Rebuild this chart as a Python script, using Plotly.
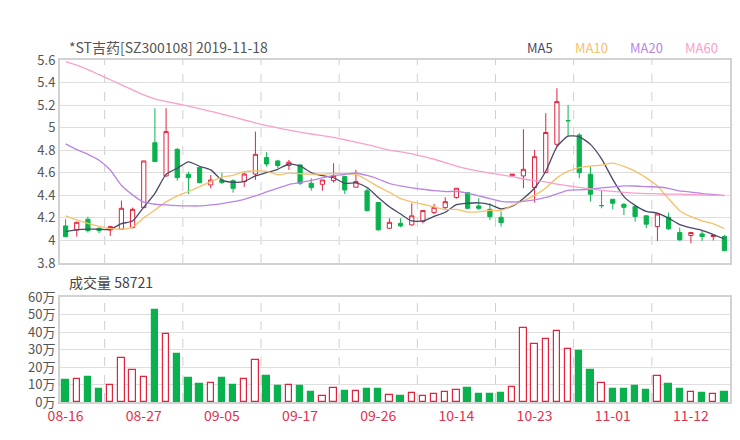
import plotly.graph_objects as go

# ---------------- data ----------------
dates = ["08-16", "08-19", "08-20", "08-21", "08-22", "08-23", "08-26", "08-27", "08-28", "08-29",
         "08-30", "09-02", "09-03", "09-04", "09-05", "09-06", "09-09", "09-10", "09-11", "09-12",
         "09-16", "09-17", "09-18", "09-19", "09-20", "09-23", "09-24", "09-25", "09-26", "09-27",
         "09-30", "10-08", "10-09", "10-10", "10-11", "10-14", "10-15", "10-16", "10-17", "10-18",
         "10-21", "10-22", "10-23", "10-24", "10-25", "10-28", "10-29", "10-30", "10-31", "11-01",
         "11-04", "11-05", "11-06", "11-07", "11-08", "11-11", "11-12", "11-13", "11-14", "11-15"]

opens = [4.129, 4.093, 4.188, 4.108, 4.093, 4.099, 4.114, 4.291, 4.867, 4.572,
         4.808, 4.587, 4.646, 4.492, 4.536, 4.530, 4.522, 4.589, 4.735, 4.705,
         4.664, 4.670, 4.507, 4.498, 4.531, 4.566, 4.472, 4.440, 4.336, 4.108,
         4.152, 4.138, 4.167, 4.247, 4.291, 4.380, 4.424, 4.306, 4.276, 4.205,
         4.574, 4.572, 4.469, 4.602, 4.853, 5.062, 4.935, 4.587, 4.309, 4.365,
         4.321, 4.300, 4.218, 4.123, 4.206, 4.070, 4.044, 4.058, 4.035, 4.035]
highs = [4.188, 4.167, 4.210, 4.114, 4.129, 4.353, 4.291, 4.705, 5.172, 5.172,
         4.817, 4.610, 4.655, 4.580, 4.600, 4.542, 4.600, 4.965, 4.782, 4.714,
         4.714, 4.670, 4.551, 4.536, 4.684, 4.566, 4.625, 4.463, 4.336, 4.197,
         4.197, 4.330, 4.270, 4.324, 4.383, 4.463, 4.430, 4.374, 4.330, 4.256,
         4.588, 4.986, 4.803, 5.128, 5.350, 5.200, 4.950, 4.655, 4.442, 4.365,
         4.330, 4.306, 4.226, 4.235, 4.247, 4.114, 4.076, 4.088, 4.050, 4.050]
lows = [4.028, 4.034, 4.070, 4.064, 4.040, 4.093, 4.108, 4.290, 4.699, 4.566,
        4.531, 4.412, 4.507, 4.462, 4.501, 4.424, 4.476, 4.537, 4.655, 4.640,
        4.625, 4.492, 4.442, 4.442, 4.513, 4.412, 4.472, 4.256, 4.088, 4.102,
        4.117, 4.132, 4.152, 4.235, 4.280, 4.371, 4.280, 4.270, 4.182, 4.123,
        4.574, 4.463, 4.336, 4.600, 4.832, 4.926, 4.551, 4.345, 4.285, 4.277,
        4.226, 4.167, 4.108, 3.996, 4.094, 3.999, 3.975, 3.996, 4.000, 3.910]
closes = [4.034, 4.161, 4.087, 4.087, 4.123, 4.285, 4.276, 4.705, 4.699, 4.965,
          4.557, 4.557, 4.513, 4.536, 4.513, 4.462, 4.589, 4.764, 4.678, 4.664,
          4.694, 4.507, 4.469, 4.536, 4.575, 4.448, 4.522, 4.265, 4.094, 4.161,
          4.129, 4.218, 4.265, 4.294, 4.344, 4.463, 4.285, 4.285, 4.211, 4.158,
          4.588, 4.631, 4.743, 4.957, 5.231, 5.062, 4.601, 4.410, 4.309, 4.330,
          4.294, 4.212, 4.144, 4.235, 4.103, 4.005, 4.070, 4.035, 4.047, 3.910]

# volume in 万
volumes = [12.4, 13.0, 14.3, 7.6, 9.9, 25.1, 18.1, 14.3, 52.8, 39.0,
           27.2, 13.9, 10.1, 11.0, 13.9, 9.5, 13.3, 24.2, 14.9, 9.0,
           9.5, 9.0, 5.7, 3.6, 8.0, 6.1, 6.5, 7.6, 7.2, 4.2,
           3.4, 5.0, 3.4, 4.6, 5.7, 6.7, 8.0, 4.6, 4.8, 5.3,
           8.6, 42.3, 33.3, 36.2, 40.6, 30.5, 29.3, 18.1, 11.0, 7.6,
           7.6, 9.0, 6.7, 15.0, 10.5, 7.2, 5.7, 5.1, 4.8, 5.87]

ma5 = [4.079, 4.094, 4.100, 4.100, 4.098, 4.149, 4.172, 4.295, 4.418, 4.586,
       4.640, 4.697, 4.658, 4.626, 4.535, 4.516, 4.523, 4.573, 4.601, 4.631,
       4.678, 4.661, 4.602, 4.574, 4.556, 4.507, 4.510, 4.469, 4.381, 4.298,
       4.234, 4.173, 4.173, 4.213, 4.250, 4.317, 4.330, 4.334, 4.318, 4.280,
       4.304, 4.373, 4.465, 4.614, 4.829, 4.925, 4.919, 4.852, 4.723, 4.542,
       4.389, 4.311, 4.258, 4.243, 4.198, 4.140, 4.111, 4.090, 4.052, 4.013]
ma10 = [4.218, 4.182, 4.152, 4.125, 4.105, 4.100, 4.118, 4.200, 4.270, 4.342,
        4.395, 4.434, 4.477, 4.522, 4.561, 4.578, 4.610, 4.616, 4.613, 4.583,
        4.597, 4.592, 4.588, 4.588, 4.594, 4.592, 4.586, 4.536, 4.477, 4.427,
        4.371, 4.342, 4.321, 4.297, 4.274, 4.276, 4.252, 4.254, 4.266, 4.265,
        4.310, 4.352, 4.400, 4.466, 4.555, 4.614, 4.646, 4.659, 4.668, 4.686,
        4.657, 4.615, 4.555, 4.483, 4.370, 4.264, 4.211, 4.174, 4.148, 4.106]
ma20 = [4.856, 4.805, 4.764, 4.711, 4.625, 4.489, 4.404, 4.339, 4.321, 4.315,
        4.309, 4.306, 4.306, 4.315, 4.327, 4.344, 4.365, 4.395, 4.430, 4.463,
        4.496, 4.513, 4.532, 4.555, 4.577, 4.585, 4.598, 4.576, 4.545, 4.505,
        4.484, 4.467, 4.454, 4.442, 4.434, 4.434, 4.419, 4.395, 4.371, 4.346,
        4.341, 4.347, 4.360, 4.381, 4.414, 4.445, 4.449, 4.456, 4.467, 4.475,
        4.484, 4.483, 4.477, 4.474, 4.462, 4.439, 4.429, 4.416, 4.408, 4.396]
ma60 = [5.585, 5.555, 5.515, 5.470, 5.425, 5.380, 5.335, 5.290, 5.255, 5.232,
        5.212, 5.190, 5.168, 5.145, 5.120, 5.095, 5.068, 5.042, 5.018, 4.998,
        4.978, 4.960, 4.944, 4.930, 4.913, 4.893, 4.872, 4.850, 4.825, 4.800,
        4.785, 4.768, 4.745, 4.720, 4.690, 4.660, 4.635, 4.615, 4.598, 4.582,
        4.565, 4.545, 4.530, 4.520, 4.500, 4.485, 4.470, 4.458, 4.445, 4.435,
        4.427, 4.420, 4.416, 4.413, 4.411, 4.410, 4.407, 4.404, 4.400, 4.401]

ma_names = ["MA5", "MA10", "MA20", "MA60"]
ma_colors = ["#4a4868", "#f7c068", "#b985e4", "#f8a0cc"]

price_ticks = [3.8, 4.0, 4.2, 4.4, 4.6, 4.8, 5.0, 5.2, 5.4, 5.6]
price_tick_text = ["3.8", "4", "4.2", "4.4", "4.6", "4.8", "5", "5.2", "5.4", "5.6"]
vol_ticks = [0, 10, 20, 30, 40, 50, 60]
vol_tick_text = ["0万", "10万", "20万", "30万", "40万", "50万", "60万"]
label_step = 7

title_text = "*ST吉药[SZ300108] 2019-11-18"
vol_title = "成交量 58721"

# ---------------- style ----------------
RED = "#e3223d"
GREEN = "#0ab24e"
GRID = "#dedede"
FRAME = "#d2d2d2"
TXT = "#555555"
FONT = "Noto Sans CJK SC, Noto Sans, sans-serif"

n = len(closes)
idx = list(range(n))

up = [i for i in idx if closes[i] > opens[i]]
dn = [i for i in idx if closes[i] <= opens[i]]

fig = go.Figure()

for sel, lc, fc in [(up, RED, "white"), (dn, GREEN, GREEN)]:
    style = dict(line=dict(color=lc, width=1), fillcolor=fc)
    fig.add_trace(go.Candlestick(
        x=sel,
        open=[opens[i] for i in sel],
        high=[highs[i] for i in sel],
        low=[lows[i] for i in sel],
        close=[closes[i] for i in sel],
        increasing=style, decreasing=style,
        whiskerwidth=0, showlegend=False, hoverinfo="skip",
        xaxis="x", yaxis="y"))

for name, color, vals in zip(ma_names, ma_colors, [ma5, ma10, ma20, ma60]):
    fig.add_trace(go.Scatter(
        x=idx, y=vals, mode="lines", name=name,
        line=dict(color=color, width=1.3, shape="spline", smoothing=0.6),
        showlegend=False, hoverinfo="skip", xaxis="x", yaxis="y"))

vol_up = [closes[i] >= opens[i] for i in idx]
fig.add_trace(go.Bar(
    x=idx, y=volumes, width=0.56,
    marker=dict(color=["white" if u else GREEN for u in vol_up],
                line=dict(color=[RED if u else GREEN for u in vol_up], width=1.2)),
    showlegend=False, hoverinfo="skip", xaxis="x2", yaxis="y2"))

label_idx = idx[::label_step]

shapes = []
for k in label_idx:
    g = k + label_step / 2
    if g < n - 0.5:
        for xr, yr in [("x", "y domain"), ("x2", "y2 domain")]:
            shapes.append(dict(type="line", xref=xr, yref=yr,
                               x0=g, x1=g, y0=0, y1=1,
                               line=dict(color="#cfcfcf", width=1, dash="dash"), layer="below"))

annotations = [
    dict(text=title_text, xref="paper", yref="paper", x=0.0105, y=1.038,
         xanchor="left", yanchor="middle", showarrow=False,
         font=dict(size=14, color=TXT, family=FONT)),
    dict(text=vol_title, xref="paper", yref="paper", x=0.0105, y=0.351,
         xanchor="left", yanchor="middle", showarrow=False,
         font=dict(size=14, color="#444", family=FONT)),
]
leg_x = [0.716, 0.794, 0.876, 0.958]
for name, color, lx in zip(ma_names, ma_colors, leg_x):
    annotations.append(dict(text=name, xref="paper", yref="paper", x=lx, y=1.038,
                            xanchor="center", yanchor="middle", showarrow=False,
                            font=dict(size=13, color=color, family=FONT)))

axis_common = dict(showline=True, mirror=True, linecolor=FRAME, linewidth=2,
                   zeroline=False, ticks="")

fig.update_layout(
    width=740, height=440,
    margin=dict(l=52, r=18, t=52, b=46),
    paper_bgcolor="white", plot_bgcolor="white",
    font=dict(family=FONT, color=TXT, size=13),
    boxgap=0.46,
    bargap=0,
    xaxis=dict(domain=[0, 1], range=[-0.5, n - 0.5], anchor="y",
               showticklabels=False, showgrid=False,
               rangeslider=dict(visible=False), **axis_common),
    yaxis=dict(domain=[0.4064, 1], range=[price_ticks[0], price_ticks[-1]],
               tickvals=price_ticks, ticktext=price_tick_text,
               showgrid=True, gridcolor=GRID, gridwidth=1,
               tickfont=dict(size=13, color=TXT), anchor="x", **axis_common),
    xaxis2=dict(domain=[0, 1], range=[-0.5, n - 0.5], anchor="y2",
                tickvals=label_idx, ticktext=[dates[i] for i in label_idx],
                tickfont=dict(size=14, color="#e0324d"), showgrid=False,
                ticklabelstandoff=0, **axis_common),
    yaxis2=dict(domain=[0, 0.307], range=[vol_ticks[0], vol_ticks[-1]],
                tickvals=vol_ticks, ticktext=vol_tick_text,
                showgrid=True, gridcolor=GRID, gridwidth=1,
                tickfont=dict(size=13, color=TXT), anchor="x2", **axis_common),
    shapes=shapes,
    annotations=annotations,
)

fig.write_html("out.html")
